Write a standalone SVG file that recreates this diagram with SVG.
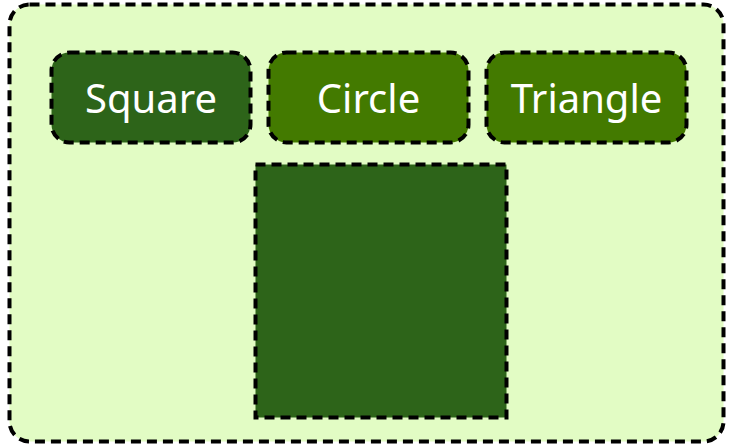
<svg xmlns="http://www.w3.org/2000/svg" width="734" height="447" viewBox="0 0 734 447">
<style>
.b{stroke:#000;stroke-width:4;stroke-dasharray:10 6}
.t{font-family:"Noto Sans","Open Sans",sans-serif;font-size:40px;fill:#fff;text-anchor:middle;dominant-baseline:central}
</style>
<rect width="734" height="447" fill="#fff"/>
<g id="container"><rect class="b" x="9.5" y="4.5" width="714" height="437" rx="20" fill="#e2fcc4"/></g>
<g id="square"><rect class="b" x="51.5" y="52.5" width="199" height="90" rx="18" fill="#2d6419"/><text class="t" x="151" y="97">Square</text></g>
<g id="circle"><rect class="b" x="268.5" y="52.5" width="200" height="90" rx="18" fill="#437a00"/><text class="t" x="368.5" y="97">Circle</text></g>
<g id="triangle"><rect class="b" x="486.5" y="52.5" width="200" height="90" rx="18" fill="#437a00"/><text class="t" x="586.5" y="97">Triangle</text></g>
<g id="shape"><rect class="b" x="255.5" y="164.5" width="251" height="253" fill="#2d6419"/></g>
<g id="connectors"/>
</svg>
